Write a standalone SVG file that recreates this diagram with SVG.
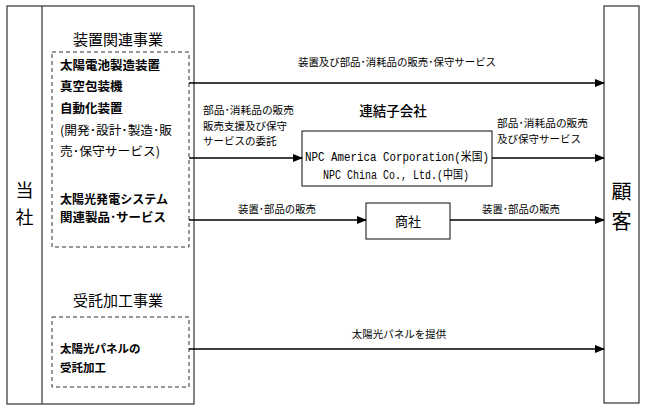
<svg xmlns="http://www.w3.org/2000/svg" width="648" height="413" viewBox="0 0 648 413">
<style>
text{font-family:"Noto Sans CJK JP","Noto Sans",sans-serif;fill:#000}
.box{fill:#fff;stroke:#333;stroke-width:1.2}
.dash{fill:none;stroke:#333;stroke-width:1;stroke-dasharray:4,3}
.ln{stroke:#000;stroke-width:1.3;fill:none}
.lbl{font-size:10.5px}
.big{font-size:15px}
.b{font-size:12.5px;font-weight:bold}
.mono{font-family:"Liberation Mono","Noto Sans CJK JP",monospace;font-size:12px}
</style>
<defs>
<marker id="ah" markerWidth="10" markerHeight="8" refX="9" refY="4" orient="auto" markerUnits="userSpaceOnUse">
<path d="M0,0 L10,4 L0,8 Z" fill="#000"/>
</marker>
</defs>
<rect width="648" height="413" fill="#fff"/>
<g id="company">
<rect class="box" x="7" y="6" width="187" height="398"/>
<line x1="42" y1="6" x2="42" y2="404" stroke="#333" stroke-width="1.2"/>
<text x="24.5" y="197" font-size="18" text-anchor="middle">当</text>
<text x="24.5" y="224" font-size="18" text-anchor="middle">社</text>
<text x="118" y="45" class="big" text-anchor="middle">装置関連事業</text>
<text x="118" y="306" class="big" text-anchor="middle">受託加工事業</text>
</g>
<g id="equipment">
<rect class="dash" x="52" y="52" width="137" height="195"/>
<text x="60" y="70" class="b">太陽電池製造装置</text>
<text x="60" y="91" class="b">真空包装機</text>
<text x="60" y="113" class="b">自動化装置</text>
<text x="60" y="135" font-size="12.5" textLength="112" lengthAdjust="spacingAndGlyphs">(開発･設計･製造･販</text>
<text x="60" y="156" font-size="12.5" textLength="100" lengthAdjust="spacingAndGlyphs">売･保守サービス)</text>
<text x="60" y="204" font-size="12" font-weight="bold" textLength="108" lengthAdjust="spacingAndGlyphs">太陽光発電システム</text>
<text x="60" y="221.5" font-size="12" font-weight="bold" textLength="106" lengthAdjust="spacingAndGlyphs">関連製品･サービス</text>
</g>
<g id="processing">
<rect class="dash" x="52" y="317" width="137" height="70"/>
<text x="60" y="353" font-size="11.5" font-weight="bold">太陽光パネルの</text>
<text x="60" y="372" font-size="11.5" font-weight="bold">受託加工</text>
</g>
<g id="customer">
<rect class="box" x="604" y="6" width="35" height="397"/>
<text x="621.5" y="199" font-size="20" text-anchor="middle">顧</text>
<text x="621.5" y="229" font-size="20" text-anchor="middle">客</text>
</g>
<g id="subsidiary">
<text x="393" y="116" font-size="13.5" font-weight="500" text-anchor="middle">連結子会社</text>
<rect class="box" x="302" y="131" width="190" height="55"/>
<text x="397" y="161" class="mono" text-anchor="middle" textLength="184" lengthAdjust="spacingAndGlyphs">NPC America Corporation(米国)</text>
<text x="396" y="179" class="mono" text-anchor="middle" textLength="146" lengthAdjust="spacingAndGlyphs">NPC China Co., Ltd.(中国)</text>
</g>
<g id="trader">
<rect class="box" x="366" y="203" width="84" height="36"/>
<text x="408" y="226" font-size="13" text-anchor="middle">商社</text>
</g>
<g id="connectors">
<line class="ln" x1="189" y1="83" x2="604" y2="83" marker-end="url(#ah)"/>
<line class="ln" x1="189" y1="158" x2="302" y2="158" marker-end="url(#ah)"/>
<line class="ln" x1="492" y1="158" x2="604" y2="158" marker-end="url(#ah)"/>
<line class="ln" x1="189" y1="220" x2="366" y2="220" marker-end="url(#ah)"/>
<line class="ln" x1="450" y1="220" x2="604" y2="220" marker-end="url(#ah)"/>
<line class="ln" x1="189" y1="349" x2="604" y2="349" marker-end="url(#ah)"/>
<text x="397" y="66" class="lbl" text-anchor="middle" textLength="198" lengthAdjust="spacingAndGlyphs">装置及び部品･消耗品の販売･保守サービス</text>
<text x="203" y="114" class="lbl" textLength="91" lengthAdjust="spacingAndGlyphs">部品･消耗品の販売</text>
<text x="203" y="130" class="lbl">販売支援及び保守</text>
<text x="203" y="145" class="lbl">サービスの委託</text>
<text x="497" y="127" class="lbl" textLength="91" lengthAdjust="spacingAndGlyphs">部品･消耗品の販売</text>
<text x="497" y="143" class="lbl">及び保守サービス</text>
<text x="277" y="213" class="lbl" text-anchor="middle" textLength="78" lengthAdjust="spacingAndGlyphs">装置･部品の販売</text>
<text x="521" y="213" class="lbl" text-anchor="middle" textLength="78" lengthAdjust="spacingAndGlyphs">装置･部品の販売</text>
<text x="399" y="338" class="lbl" text-anchor="middle">太陽光パネルを提供</text>
</g>
</svg>
